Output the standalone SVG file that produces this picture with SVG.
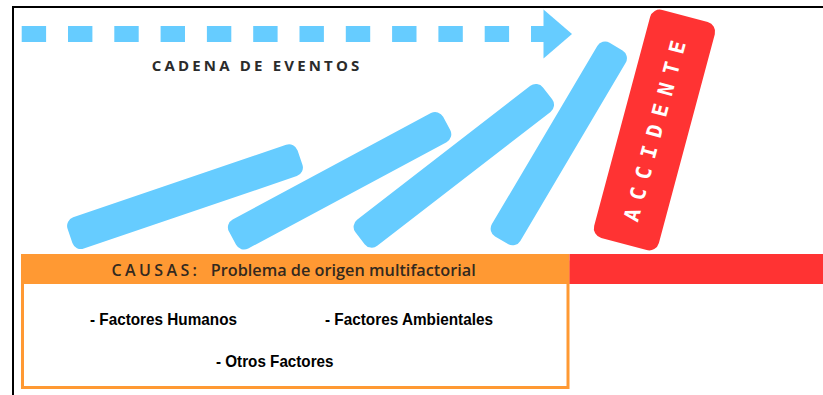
<svg xmlns="http://www.w3.org/2000/svg" width="823" height="395" viewBox="0 0 823 395">
  <style>
    .bar { fill: #66CCFF; }
    .dash { stroke: #66CCFF; stroke-width: 16; fill: none; stroke-dasharray: 24.4 21.9; }
    .head { fill: #66CCFF; }
    .title { font-family: "Open Sans", "DejaVu Sans", sans-serif; font-weight: 700; font-size: 15px; fill: #2b2b2b; }
    .acc { font-family: "DejaVu Sans Mono", "Liberation Mono", monospace; font-weight: 700; font-size: 21px; fill: #FFFFFF; }
    .hdr { font-family: "Open Sans", "DejaVu Sans", sans-serif; font-weight: 600; font-size: 16px; fill: #33291f; }
    .item { font-family: "Liberation Sans", Arial, sans-serif; font-weight: 700; font-size: 16.5px; fill: #000000; }
  </style>
  <rect x="0" y="0" width="823" height="395" fill="#FFFFFF"/>
  <path d="M13,395 V7 H823" fill="none" stroke="#000000" stroke-width="2"/>

  <g id="connectors">
    <line class="dash" x1="21.7" y1="34" x2="545" y2="34"/>
    <polygon class="head" points="543.5,9.5 572,34 543.5,58.5"/>
  </g>

  <g id="label-cadena">
    <text class="title" x="151.7" y="70.7" textLength="207.6" lengthAdjust="spacing">CADENA DE EVENTOS</text>
  </g>

  <g id="domino-1">
    <rect class="bar" x="-121.5" y="-16.5" width="243" height="33" rx="9" transform="translate(185,196.7) rotate(-18.8)"/>
  </g>
  <g id="domino-2">
    <rect class="bar" x="-121.5" y="-16.5" width="243" height="33" rx="9" transform="translate(339.6,180.8) rotate(-28.2)"/>
  </g>
  <g id="domino-3">
    <rect class="bar" x="-118.5" y="-16.5" width="237" height="33" rx="9" transform="translate(453.8,165.8) rotate(-37.7)"/>
  </g>
  <g id="domino-4">
    <rect class="bar" x="-112.5" y="-16.5" width="225" height="33" rx="9" transform="translate(558.8,143.4) rotate(-59.4)"/>
  </g>

  <g id="accidente">
    <rect x="-33.5" y="-118" width="67" height="236" rx="10" fill="#FF3333" transform="translate(654.5,130) rotate(15)"/>
    <text class="acc" x="0" y="7.6" text-anchor="middle" textLength="186" lengthAdjust="spacing" transform="translate(654.5,131) rotate(-75)">ACCIDENTE</text>
  </g>

  <g id="causas">
    <rect x="22.5" y="262" width="545.5" height="125.5" fill="#FFFFFF" stroke="#FF9933" stroke-width="3"/>
    <rect x="21" y="254" width="548.5" height="30" fill="#FF9933"/>
    <rect x="569.5" y="254" width="253.5" height="30" fill="#FF3333"/>
    <text class="hdr" x="111.4" y="276" textLength="85.6" lengthAdjust="spacing">CAUSAS:</text>
    <text class="hdr" x="210.7" y="276" textLength="265" lengthAdjust="spacingAndGlyphs">Problema de origen multifactorial</text>
    <text class="item" x="90" y="325" textLength="147" lengthAdjust="spacingAndGlyphs">- Factores Humanos</text>
    <text class="item" x="325" y="325" textLength="168" lengthAdjust="spacingAndGlyphs">- Factores Ambientales</text>
    <text class="item" x="216" y="366.5" textLength="117.5" lengthAdjust="spacingAndGlyphs">- Otros Factores</text>
  </g>
</svg>
